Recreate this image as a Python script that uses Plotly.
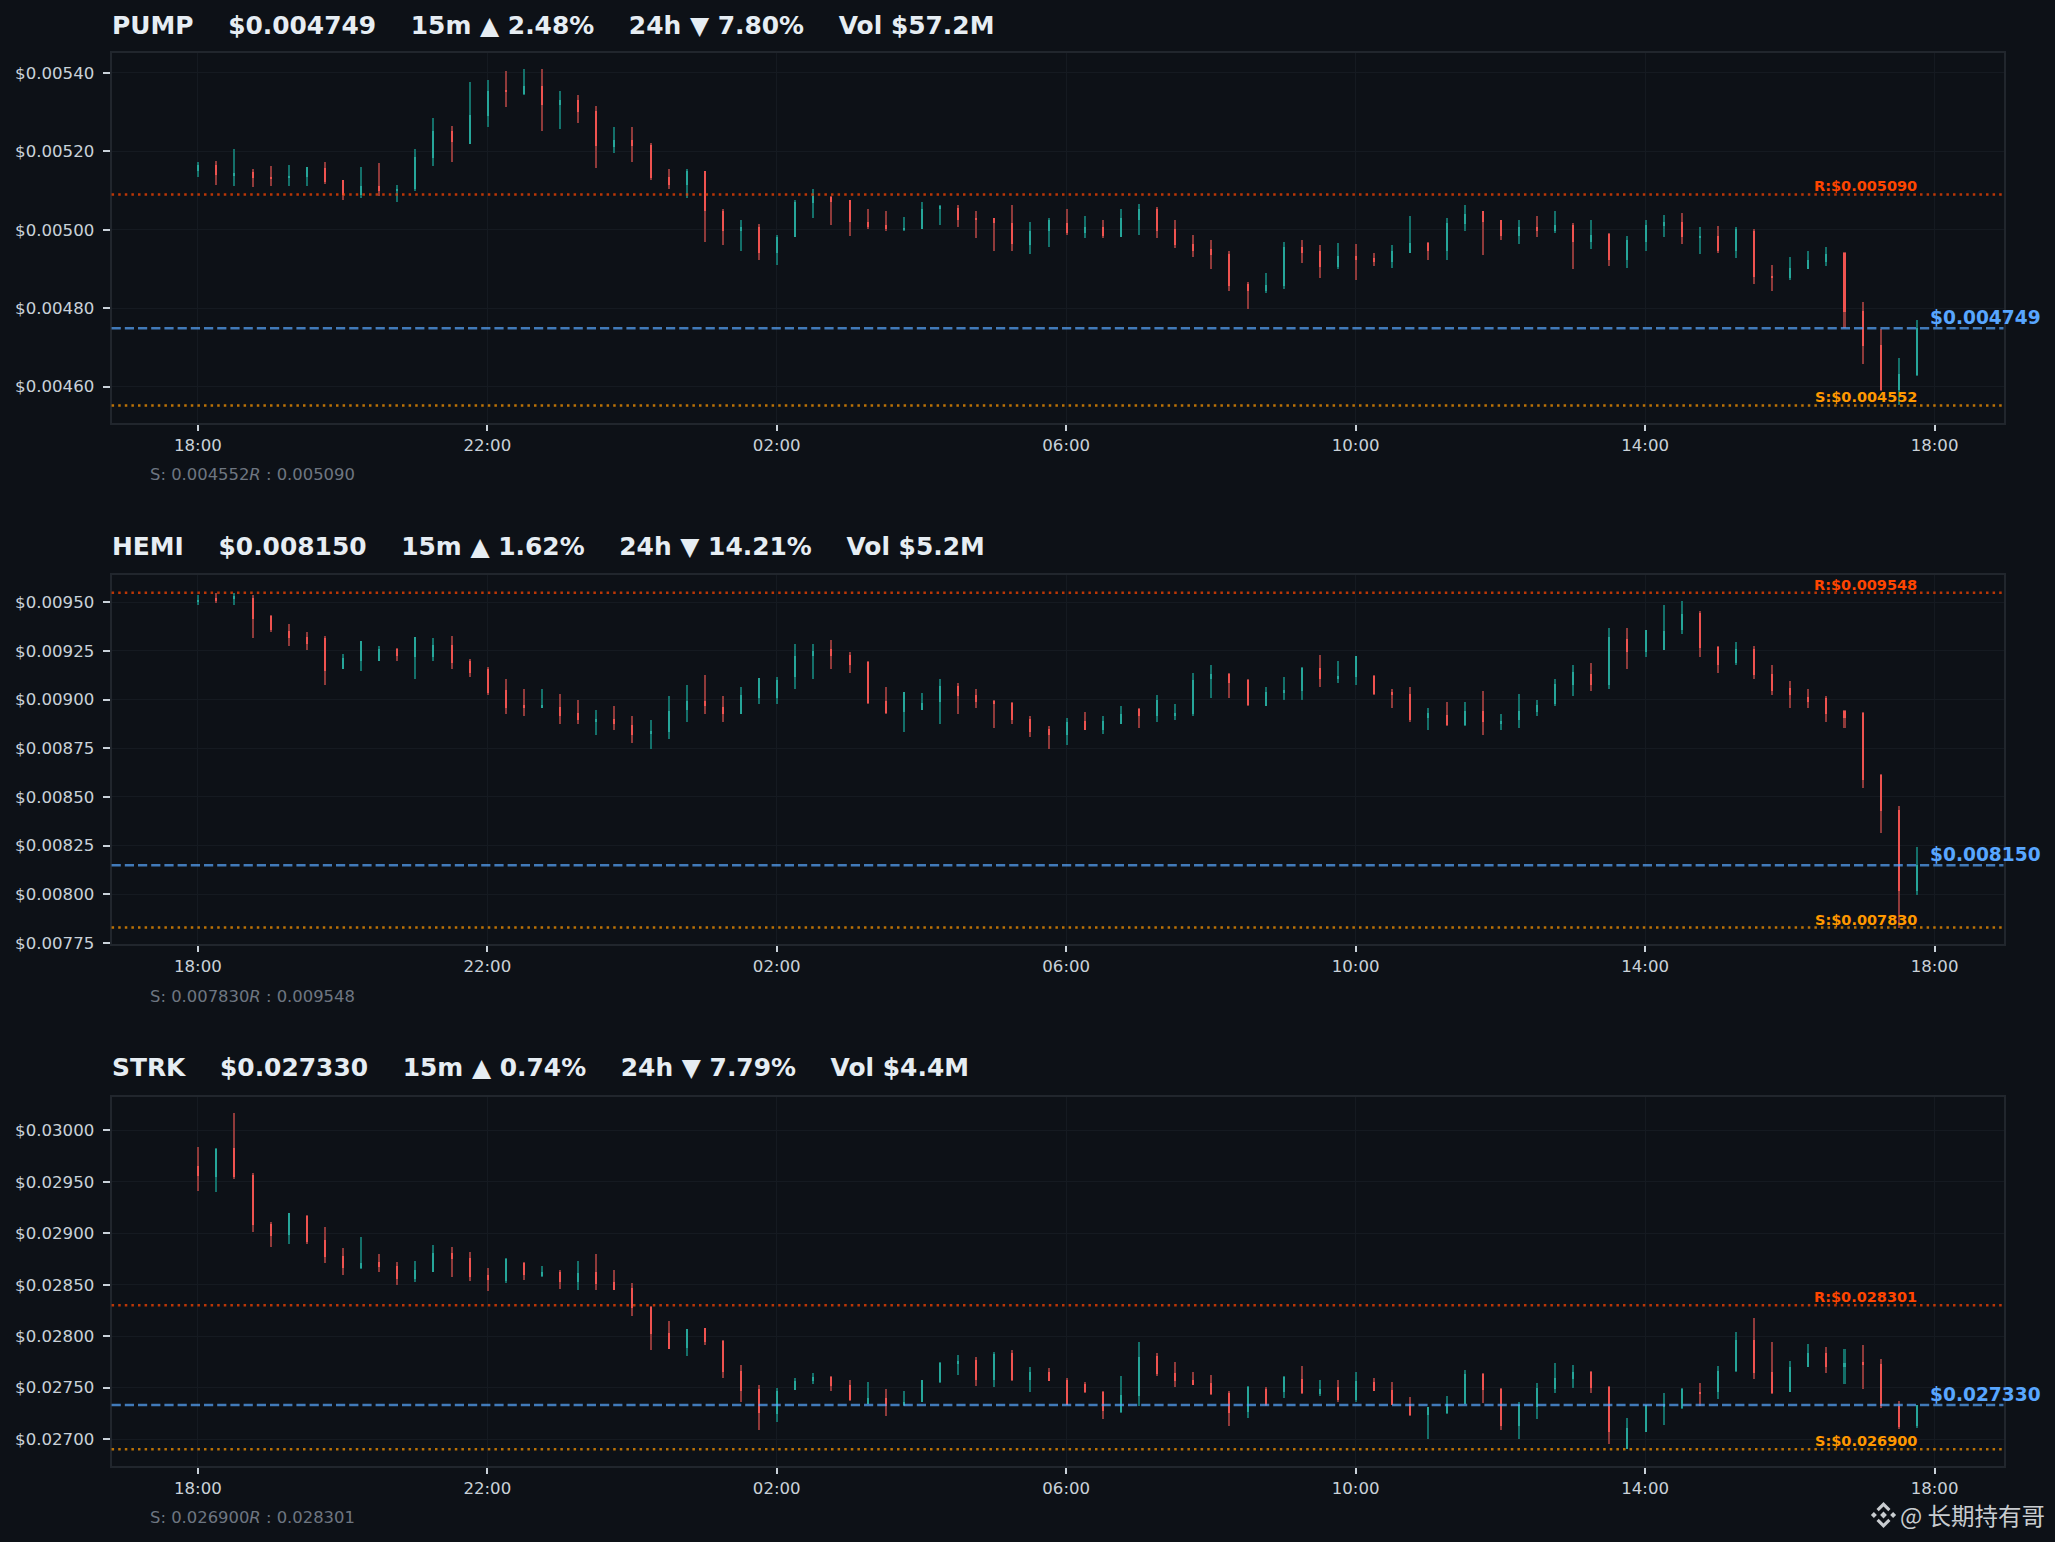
import pandas as pd
import plotly.graph_objects as go
from plotly.subplots import make_subplots

# prices below are in millionths of a dollar
UNIT = 1e-6

PUMP_OPEN = [5150,5165,5137,5146,5134,5130,5135,5156,5125,5089,5112,5097,5102,5183,5250,5219,
             5290,5354,5346,5367,5318,5329,5303,5211,5227,5216,5135,5114,5148,5048,4997,5007,
             4941,4982,5068,5084,5074,5020,5012,5000,5002,5051,5056,5028,5028,5017,4961,4995,
             5017,4992,5007,4982,5025,5051,5000,4964,4949,4938,4862,4842,4857,4956,4944,4905,
             4933,4926,4916,4941,4966,4946,5015,5046,5023,4984,5007,4995,5012,4969,4989,4923,
             4969,5010,5020,4979,4984,4944,4997,4882,4875,4900,4918,4940,4793,4706,4590,4630]
PUMP_HIGH = [5172,5175,5204,5153,5163,5165,5160,5173,5127,5160,5170,5114,5206,5285,5265,5375,
             5382,5403,5408,5408,5354,5344,5316,5262,5262,5221,5153,5155,5150,5051,5023,5015,
             4987,5076,5102,5086,5076,5053,5046,5033,5071,5063,5063,5046,5030,5063,5020,5028,
             5053,5035,5023,5053,5066,5058,5025,4987,4974,4944,4867,4890,4969,4972,4961,4966,
             4964,4941,4961,5035,4969,5030,5063,5048,5025,5023,5035,5048,5017,5023,4992,4984,
             5025,5038,5043,5007,5010,5007,5002,4910,4931,4946,4956,4943,4814,4745,4673,4768]
PUMP_LOW = [5133,5114,5112,5109,5112,5112,5112,5117,5076,5079,5085,5071,5099,5161,5173,5219,
            5262,5313,5344,5250,5257,5272,5158,5196,5173,5127,5102,5081,4969,4961,4946,4923,
            4910,4982,5030,5012,4984,5002,4997,4997,5002,5012,5007,4977,4946,4946,4938,4956,
            4987,4977,4977,4982,4987,4977,4954,4931,4900,4844,4796,4839,4849,4915,4877,4900,
            4872,4908,4903,4941,4923,4923,4997,4936,4972,4964,4982,4992,4900,4951,4908,4903,
            4946,4982,4964,4938,4941,4926,4862,4842,4870,4898,4908,4749,4658,4587,4552,4627]
PUMP_CLOSE = [5165,5140,5145,5132,5130,5137,5159,5122,5089,5112,5099,5104,5186,5250,5222,5293,
              5354,5352,5367,5318,5329,5300,5214,5227,5214,5132,5114,5148,5048,4997,5007,4941,
              4982,5071,5086,5071,5020,5007,5000,5005,5053,5061,5025,5025,5017,4964,4995,5025,
              4992,5007,4984,5028,5051,4997,4961,4946,4936,4857,4844,4859,4956,4941,4905,4933,
              4923,4916,4944,4966,4946,5017,5040,5020,4984,5007,4995,5012,4969,4987,4923,4972,
              5012,5020,4982,4984,4944,5000,4880,4875,4903,4923,4938,4790,4704,4590,4632,4749]

HEMI_OPEN = [9498,9519,9515,9521,9428,9351,9320,9315,9156,9197,9197,9259,9218,9218,9279,9197,
             9156,9048,8971,8956,8961,8930,8884,8899,8869,8822,8833,8946,8992,8961,8925,9007,
             9007,9115,9223,9259,9228,9192,8992,8935,8946,8987,9069,9023,8992,8982,8899,8848,
             8817,8889,8843,8874,8951,8915,8915,8925,9105,9130,9100,8966,9038,9043,9161,9105,
             9115,9120,9038,9028,8905,8920,8869,8940,8879,8894,8935,8976,9074,9130,9074,9310,
             9243,9254,9356,9444,9269,9187,9259,9130,9059,9012,9007,8940,8930,8612,8432,8020]
HEMI_HIGH = [9536,9548,9545,9536,9433,9387,9346,9325,9233,9300,9274,9264,9320,9315,9325,9207,
             9166,9105,9053,9053,9028,8997,8946,8966,8915,8894,9017,9074,9125,9017,9064,9110,
             9115,9284,9284,9305,9243,9197,9064,9038,9033,9105,9084,9053,8997,8987,8915,8864,
             8905,8935,8915,8966,8956,9023,8976,9136,9177,9136,9105,9064,9115,9166,9228,9197,
             9223,9125,9053,9064,8956,8987,8987,9043,8925,9028,8997,9105,9177,9187,9367,9367,
             9356,9485,9505,9454,9274,9295,9274,9177,9095,9053,9017,8946,8935,8617,8453,8242]
HEMI_LOW = [9485,9495,9485,9315,9346,9274,9254,9074,9156,9146,9197,9197,9105,9197,9156,9115,
            9023,8925,8915,8956,8874,8874,8817,8843,8776,8745,8797,8884,8925,8884,8925,8976,
            8976,9053,9105,9156,9136,8976,8925,8833,8946,8874,8925,8956,8853,8874,8807,8745,
            8766,8843,8822,8874,8853,8884,8894,8915,9007,9007,8966,8966,8997,8997,9064,9084,
            9074,9023,8956,8884,8843,8864,8864,8817,8843,8853,8915,8966,9017,9043,9053,9156,
            9218,9254,9336,9218,9136,9177,9105,9023,8956,8956,8884,8853,8545,8314,7830,7996]
HEMI_CLOSE = [9510,9505,9531,9413,9356,9315,9284,9146,9211,9300,9259,9223,9320,9279,9187,9136,
              9033,8956,8956,8971,8915,8894,8899,8874,8817,8838,8940,8992,8966,8925,9023,9110,
              9100,9223,9248,9223,9177,8982,8930,9038,8982,9069,9017,8987,8976,8894,8833,8817,
              8884,8843,8889,8925,8915,8997,8930,9100,9130,9084,8971,9038,9048,9161,9105,9120,
              9223,9028,9023,8894,8930,8869,8940,8884,8889,8940,8971,9079,9141,9074,9320,9243,
              9356,9351,9438,9264,9177,9259,9125,9043,9023,8987,8925,8905,8586,8427,8017,8150]

STRK_OPEN = [29653,29546,29828,29566,29090,28983,29167,28934,28779,28662,28720,28681,28555,28623,28808,28759,
             28594,28536,28710,28584,28623,28526,28623,28526,28467,28283,28030,27884,28079,27952,27661,27486,
             27243,27476,27564,27602,27525,27340,27398,27330,27359,27554,27729,27768,27573,27836,27573,27651,
             27573,27534,27457,27262,27418,27807,27641,27573,27544,27447,27262,27486,27457,27583,27437,27505,
             27379,27554,27476,27340,27233,27252,27340,27632,27486,27126,27311,27486,27583,27651,27505,26900,
             27068,27321,27301,27457,27457,27661,27962,27651,27457,27700,27836,27700,27748,27729,27321,27126]
STRK_HIGH = [29838,29825,30168,29585,29109,29196,29177,29060,28856,28963,28798,28720,28730,28885,28866,28817,
             28662,28759,28720,28681,28642,28730,28798,28642,28516,28293,28147,28066,28079,27962,27719,27525,
             27496,27593,27641,27612,27573,27554,27486,27466,27573,27748,27816,27797,27845,27865,27700,27690,
             27593,27554,27466,27612,27943,27836,27748,27651,27622,27466,27515,27505,27612,27709,27573,27573,
             27651,27593,27554,27408,27311,27418,27670,27641,27496,27359,27544,27738,27719,27661,27515,27204,
             27330,27447,27496,27544,27709,28040,28176,27943,27758,27923,27894,27875,27913,27777,27369,27330]
STRK_LOW = [29410,29401,29527,29012,28866,28895,28895,28710,28594,28652,28623,28497,28526,28623,28574,28536,
            28438,28516,28545,28574,28458,28448,28448,28448,28195,27865,27875,27807,27914,27593,27359,27087,
            27165,27476,27534,27466,27369,27340,27223,27321,27359,27544,27622,27515,27505,27564,27457,27564,
            27330,27447,27194,27252,27320,27612,27505,27525,27427,27126,27204,27321,27398,27437,27418,27359,
            27359,27466,27330,27223,27000,27243,27340,27350,27087,27000,27194,27447,27496,27447,26951,26900,
            27068,27136,27291,27321,27389,27651,27583,27437,27457,27700,27641,27534,27486,27301,27097,27107]
STRK_CLOSE = [29556,29819,29546,29080,28973,29196,28915,28769,28662,28710,28672,28555,28642,28808,28749,28574,
              28545,28749,28594,28623,28526,28613,28506,28448,28273,28020,27875,28066,27943,27651,27466,27252,
              27466,27564,27602,27515,27379,27398,27321,27359,27573,27739,27758,27573,27826,27573,27651,27564,
              27330,27457,27272,27427,27797,27632,27564,27525,27437,27252,27505,27330,27602,27447,27486,27379,
              27564,27466,27330,27233,27311,27340,27632,27476,27126,27330,27496,27593,27651,27496,27068,27107,
              27330,27340,27486,27437,27661,27962,27641,27447,27700,27836,27700,27739,27729,27321,27116,27330]

SYMBOLS = ["PUMP", "HEMI", "STRK"]
TITLES = ["PUMP    $0.004749    15m ▲ 2.48%    24h ▼ 7.80%    Vol $57.2M",
          "HEMI    $0.008150    15m ▲ 1.62%    24h ▼ 14.21%    Vol $5.2M",
          "STRK    $0.027330    15m ▲ 0.74%    24h ▼ 7.79%    Vol $4.4M"]
CURRENT = [0.004749, 0.008150, 0.027330]
SUPPORT = [0.004552, 0.007830, 0.026900]
RESIST = [0.005090, 0.009548, 0.028301]
Y_RANGES = [(0.004508, 0.005450), (0.007747, 0.009639), (0.026738, 0.030324)]
Y_DTICK = [0.0002, 0.00025, 0.0005]
OPENS = [PUMP_OPEN, HEMI_OPEN, STRK_OPEN]
HIGHS = [PUMP_HIGH, HEMI_HIGH, STRK_HIGH]
LOWS = [PUMP_LOW, HEMI_LOW, STRK_LOW]
CLOSES = [PUMP_CLOSE, HEMI_CLOSE, STRK_CLOSE]

W, H = 2055, 1542
BG = "#0d1117"
UP, DOWN = "#26a69a", "#ef5350"
UP_WICK, DOWN_WICK = "#14706a", "#8f3a3a"
LEFT, RIGHT = 111.6, 2003.5
PANELS = [(53.3, 422.7), (575.0, 943.7), (1097.0, 1466.0)]
TITLE_Y = [25, 546, 1067]
FOOT_Y = [474, 996, 1517]
FONT = "DejaVu Sans"

times = pd.date_range("2025-01-01 18:00", periods=96, freq="15min")
x_range = [pd.Timestamp("2025-01-01 16:48:30"), pd.Timestamp("2025-01-02 18:57:10")]
BAR_MS = 100000

fig = make_subplots(rows=3, cols=1)

for i, sym in enumerate(SYMBOLS):
    row = i + 1
    o = [v * UNIT for v in OPENS[i]]
    h = [v * UNIT for v in HIGHS[i]]
    l = [v * UNIT for v in LOWS[i]]
    c = [v * UNIT for v in CLOSES[i]]
    up = [a >= b for a, b in zip(c, o)]

    # wicks
    fig.add_trace(go.Bar(
        x=times, base=l, y=[a - b for a, b in zip(h, l)], width=BAR_MS,
        marker=dict(color=[UP_WICK if u else DOWN_WICK for u in up], line_width=0),
        name=sym + " range", showlegend=False, hoverinfo="skip"
    ), row=row, col=1)
    # bodies
    fig.add_trace(go.Bar(
        x=times, base=[min(a, b) for a, b in zip(o, c)], y=[abs(a - b) for a, b in zip(o, c)],
        width=BAR_MS,
        marker=dict(color=[UP if u else DOWN for u in up], line_width=0),
        name=sym, showlegend=False
    ), row=row, col=1)

    top, bottom = PANELS[i]
    xname = "xaxis" if i == 0 else f"xaxis{row}"
    yname = "yaxis" if i == 0 else f"yaxis{row}"
    fig.update_layout({
        xname: dict(domain=[LEFT / W, RIGHT / W], range=x_range, type="date", automargin=False,
                    tick0=times[0], dtick=4 * 3600000, tickformat="%H:%M",
                    ticks="outside", ticklen=6, tickwidth=2, tickcolor="#c9d1d9",
                    tickfont=dict(family=FONT, size=16.6, color="#c9d1d9"),
                    showline=True, linecolor="#21262d", linewidth=2, mirror=True,
                    showgrid=True, gridcolor="#151a21", gridwidth=1, zeroline=False,
                    rangeslider_visible=False),
        yname: dict(domain=[1 - bottom / H, 1 - top / H], range=list(Y_RANGES[i]), automargin=False,
                    tick0=0, dtick=Y_DTICK[i], tickformat="$.5f",
                    ticks="outside", ticklen=7, tickwidth=2, tickcolor="#c9d1d9",
                    ticklabelstandoff=5,
                    tickfont=dict(family=FONT, size=16.6, color="#c9d1d9"),
                    showline=True, linecolor="#21262d", linewidth=2, mirror=True,
                    showgrid=True, gridcolor="#151a21", gridwidth=1, zeroline=False),
    })

    # support / resistance / last price lines
    fig.add_hline(y=RESIST[i], row=row, col=1, line=dict(color="rgba(255,69,0,0.72)", width=2.5, dash="2.5px,4.1px"))
    fig.add_hline(y=SUPPORT[i], row=row, col=1, line=dict(color="rgba(255,152,0,0.72)", width=2.5, dash="2.5px,4.1px"))
    fig.add_hline(y=CURRENT[i], row=row, col=1, line=dict(color="rgba(88,166,255,0.7)", width=2.5, dash="9.2px,4px"))

    xref = "x" if i == 0 else f"x{row}"
    yref = "y" if i == 0 else f"y{row}"
    fig.add_annotation(x=times[-1], y=RESIST[i], xref=xref, yref=yref, text=f"<b>R:${RESIST[i]:.6f}</b>",
                       showarrow=False, xanchor="right", yanchor="bottom", xshift=2, yshift=-1,
                       font=dict(family=FONT, size=14.5, color="#ff4500"), borderpad=0)
    fig.add_annotation(x=times[-1], y=SUPPORT[i], xref=xref, yref=yref, text=f"<b>S:${SUPPORT[i]:.6f}</b>",
                       showarrow=False, xanchor="right", yanchor="bottom", xshift=2, yshift=-1,
                       font=dict(family=FONT, size=14.5, color="#ff9800"), borderpad=0)
    fig.add_annotation(x=times[-1], y=CURRENT[i], xref=xref, yref=yref, text=f"<b>${CURRENT[i]:.6f}</b>",
                       showarrow=False, xanchor="left", yanchor="bottom", xshift=13, yshift=-1,
                       font=dict(family=FONT, size=18.6, color="#58a6ff"), borderpad=0)

    # panel title and the small footnote under it
    fig.add_annotation(x=LEFT / W, y=1 - TITLE_Y[i] / H, xref="paper", yref="paper", text=f"<b>{TITLES[i]}</b>",
                       showarrow=False, xanchor="left", yanchor="middle", xshift=-2,
                       font=dict(family=FONT, size=24.9, color="#e6edf3"))
    fig.add_annotation(x=149.5 / W, y=1 - FOOT_Y[i] / H, xref="paper", yref="paper",
                       text=f"S: {SUPPORT[i]:.6f}<i>R</i> : {RESIST[i]:.6f}",
                       showarrow=False, xanchor="left", yanchor="middle", xshift=-2,
                       font=dict(family=FONT, size=16.4, color="#6e7681"))

# watermark, logo drawn as paper shapes
def logo_path(points, cx=1883.5, cy=1515):
    pts = [f"{(cx + px) / W:.5f},{1 - (cy + py) / H:.5f}" for px, py in points]
    return "M" + " L".join(pts) + " Z"

LOGO_PARTS = [
    [(0, -3.4), (3.4, 0), (0, 3.4), (-3.4, 0)],
    [(-9.6, -3), (-6.6, 0), (-9.6, 3), (-12.6, 0)],
    [(9.6, -3), (12.6, 0), (9.6, 3), (6.6, 0)],
    [(0, -13), (7, -6), (4.8, -3.8), (0, -8.6), (-4.8, -3.8), (-7, -6)],
    [(0, 13), (7, 6), (4.8, 3.8), (0, 8.6), (-4.8, 3.8), (-7, 6)],
]
for part in LOGO_PARTS:
    fig.add_shape(type="path", path=logo_path(part), xref="paper", yref="paper",
                  fillcolor="#c8ccd0", line_width=0)
fig.add_annotation(x=2047 / W, y=1 - 1515 / H, xref="paper", yref="paper", text="@ 长期持有哥",
                   showarrow=False, xanchor="right", yanchor="middle",
                   font=dict(family="Noto Sans CJK SC", size=23.5, color="#c8ccd0"))

fig.update_layout(
    width=W, height=H, margin=dict(l=0, r=0, t=0, b=0, autoexpand=False),
    paper_bgcolor=BG, plot_bgcolor=BG,
    barmode="overlay", bargap=0, showlegend=False,
)

# page must be exactly the figure size, no body margin or line gap under the plot
page_css = ("document.documentElement.style.height='1542px';document.documentElement.style.overflow='hidden';"
            "document.body.style.height='1542px';document.body.style.overflow='hidden';"
            "document.body.style.margin='0';document.body.style.background='" + BG + "';")
fig.write_html("out.html", config={"responsive": False, "displayModeBar": False}, post_script=page_css)
